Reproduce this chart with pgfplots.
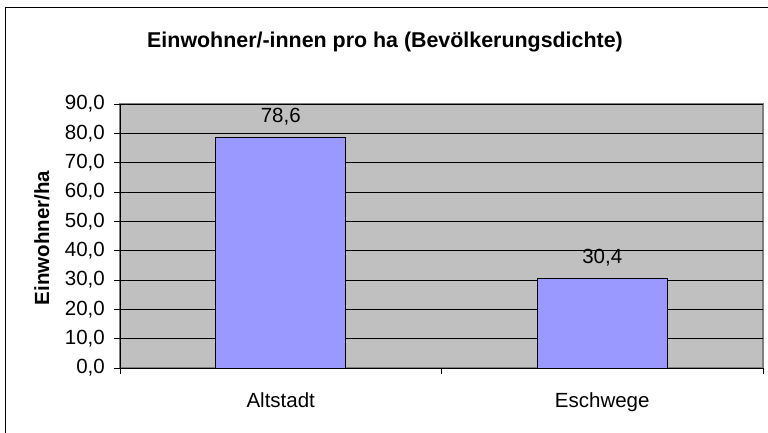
\documentclass[border=0pt]{standalone}
\usepackage{pgfplots}
\pgfplotsset{compat=1.18}
\usepackage{fontspec}
\setmainfont{Liberation Sans}
\definecolor{barblue}{HTML}{9999FF}
\definecolor{plotgray}{HTML}{C0C0C0}
\definecolor{edgegray}{HTML}{808080}
\begin{document}
\begin{tikzpicture}[x=1pt,y=1pt]
\fontsize{20.5}{24}\selectfont
\path[use as bounding box] (-120,-65) rectangle (648,368);
\begin{axis}[
  at={(0,0)}, anchor=south west,
  scale only axis, width=643pt, height=264pt,
  xmin=-0.5, xmax=1.5, ymin=0, ymax=90,
  ybar, bar width=130pt,
  axis x line*=bottom, axis y line*=left,
  axis line style={black, line width=0.8pt},
  axis background/.style={fill=plotgray, draw=edgegray, line width=1.2pt},
  xtick={0,1}, xticklabels={Altstadt,Eschwege},
  minor xtick={-0.5,0.5,1.5},
  x tick style={draw=none},
  minor x tick style={draw=black, line width=0.8pt},
  minor tick length=6pt,
  ytick={0,10,...,90},
  y tick style={black, line width=0.8pt},
  major tick length=6pt,
  tick align=outside,
  ymajorgrids, grid style={black, line width=0.8pt},
  /pgf/number format/.cd, fixed, fixed zerofill, precision=1, use comma, assume math mode=true,
  /pgfplots/.cd,
  yticklabel style={font=\fontsize{20.5}{24}\selectfont, inner sep=0pt, xshift=-9pt},
  xticklabel style={font=\fontsize{20.5}{24}\selectfont, yshift=-12pt},
  nodes near coords,
  every node near coord/.append style={font=\fontsize{20.5}{24}\selectfont, anchor=south, yshift=5pt, text=black},
  enlargelimits=false, clip=false,
]
\addplot[fill=barblue, draw=black, line width=0.8pt] coordinates {(0,78.6) (1,30.4)};
\end{axis}
\node[font=\bfseries\fontsize{21.4}{25}\selectfont] at (265,326) {Einwohner/-innen pro ha (Bevölkerungsdichte)};
\node[font=\bfseries\fontsize{20.5}{24}\selectfont, rotate=90] at (-78,130) {Einwohner/ha};
\draw[black, line width=1pt] (-114,-70) -- (-114,360) -- (660,360);
\end{tikzpicture}
\end{document}
